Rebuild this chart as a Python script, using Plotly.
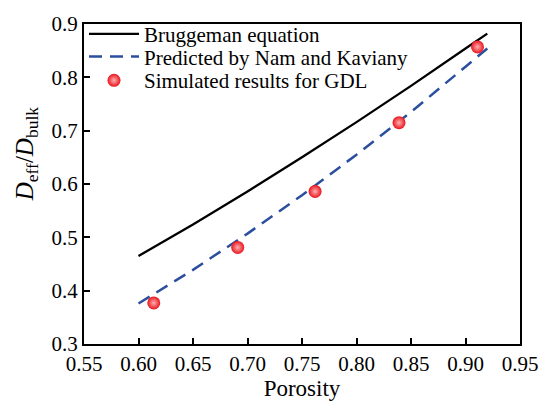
import plotly.graph_objects as go

# Bruggeman equation curve
brug_x = [0.60, 0.65, 0.70, 0.75, 0.80, 0.85, 0.90, 0.92]
brug_y = [0.465, 0.524, 0.586, 0.650, 0.716, 0.784, 0.854, 0.882]

# Predicted by Nam and Kaviany
nam_x = [0.60, 0.65, 0.70, 0.75, 0.80, 0.85, 0.90, 0.92]
nam_y = [0.376, 0.439, 0.507, 0.579, 0.655, 0.735, 0.820, 0.854]

# Simulated results for GDL
sim_x = [0.614, 0.691, 0.762, 0.839, 0.911]
sim_y = [0.377, 0.481, 0.586, 0.715, 0.857]

x_ticks = [0.55, 0.60, 0.65, 0.70, 0.75, 0.80, 0.85, 0.90, 0.95]
y_ticks = [0.3, 0.4, 0.5, 0.6, 0.7, 0.8, 0.9]

FONT = "Liberation Serif"

fig = go.Figure()
fig.add_trace(go.Scatter(x=brug_x, y=brug_y, mode="lines", name="Bruggeman equation",
                         legend="legend",
                         line=dict(color="black", width=2.3)))
fig.add_trace(go.Scatter(x=nam_x, y=nam_y, mode="lines", name="Predicted by Nam and Kaviany",
                         legend="legend2",
                         line=dict(color="#2b4f9e", width=2.5, dash="13px,8px")))
fig.add_trace(go.Scatter(x=sim_x, y=sim_y, mode="markers", name="Simulated results for GDL",
                         legend="legend3",
                         marker=dict(size=13, color="#e8141c",
                                     gradient=dict(type="radial", color="#ffb0b0"),
                                     line=dict(width=0))))

leg_common = dict(x=0.0, xanchor="left", yanchor="middle",
                  bgcolor="rgba(0,0,0,0)", borderwidth=0,
                  font=dict(family=FONT, size=21, color="black"),
                  itemwidth=50)

fig.update_layout(
    width=550, height=404,
    margin=dict(l=84, r=21, t=18, b=57),
    paper_bgcolor="white", plot_bgcolor="white",
    font=dict(family=FONT, color="black", size=20),
    showlegend=True,
    legend=dict(y=0.968, **leg_common),
    legend2=dict(y=0.897, **leg_common),
    legend3=dict(y=0.823, **leg_common),
    xaxis=dict(range=[0.55, 0.95], tickvals=x_ticks,
               ticktext=[f"{v:.2f}" for v in x_ticks],
               ticks="inside", ticklen=6, tickwidth=2, tickcolor="black",
               showline=True, linewidth=2, linecolor="black", mirror=True,
               showgrid=False, zeroline=False,
               tickfont=dict(family=FONT, size=21),
               title=dict(text="Porosity", font=dict(family=FONT, size=23), standoff=0)),
    yaxis=dict(range=[0.3, 0.9], tickvals=y_ticks,
               ticktext=[f"{v:.1f}" for v in y_ticks],
               ticks="inside", ticklen=6, tickwidth=2, tickcolor="black",
               showline=True, linewidth=2, linecolor="black", mirror=True,
               showgrid=False, zeroline=False,
               tickfont=dict(family=FONT, size=21)),
)

fig.add_annotation(text="<i>D</i><sub>eff</sub>/<i>D</i><sub>bulk</sub>",
                   xref="paper", yref="paper", x=-0.133, y=0.593,
                   xanchor="center", yanchor="middle", textangle=-90,
                   showarrow=False, font=dict(family=FONT, size=25, color="black"))

fig.write_html("out.html")
